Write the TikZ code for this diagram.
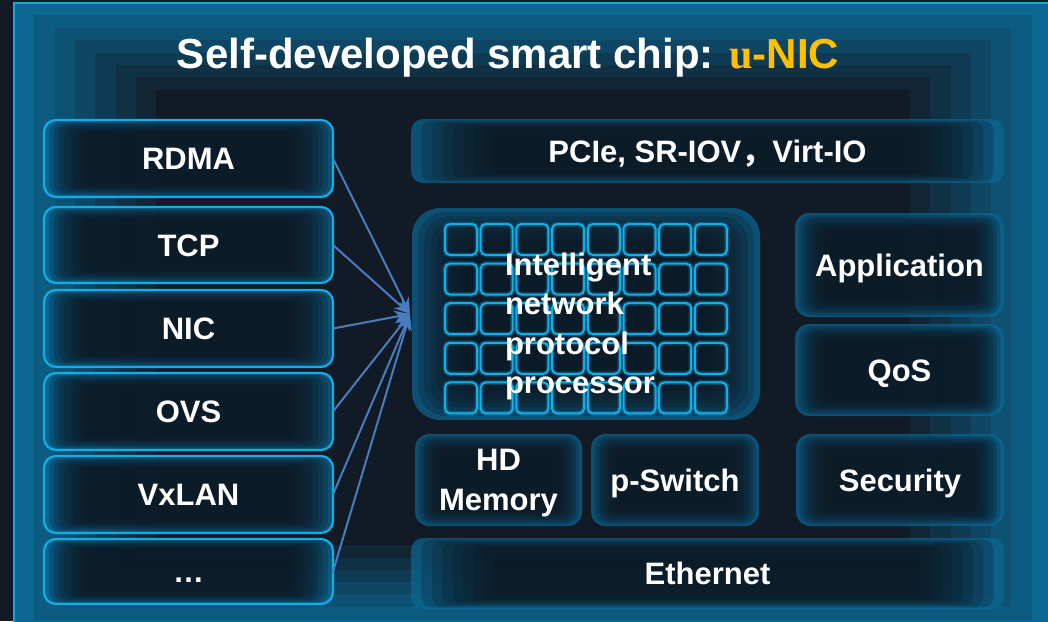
\documentclass[tikz,border=0pt]{standalone}
\usepackage{fontspec}
\setmainfont{Liberation Sans}
\newfontfamily\serifbf{Liberation Serif}
\newfontfamily\cjkfont{Noto Sans CJK SC}
\usetikzlibrary{arrows.meta}
\definecolor{pagebg}{HTML}{121A26}
\definecolor{framebd}{HTML}{1AA3DB}
\definecolor{frameout}{HTML}{0B6792}
\definecolor{glowblue}{HTML}{0A6895}
\definecolor{darkfill}{HTML}{0E1620}
\definecolor{cyanbd}{HTML}{12AEE8}
\definecolor{linkblue}{HTML}{4A7CC0}
\definecolor{gold}{HTML}{FFC000}
\definecolor{cellbd}{HTML}{10B0EA}
\newcommand\glowlayers[5]{%
  \pgfmathsetmacro\gw{#3-#1}\pgfmathsetmacro\gh{#4-#2}%
  \fill[glowblue, opacity=.7, rounded corners=#5pt] (#1,#2) rectangle (#3,#4);
  \foreach \k in {1,...,8}{%
    \pgfmathsetmacro\ix{\k*0.0175*\gw}%
    \pgfmathsetmacro\iy{\k*0.02*\gh}%
    \pgfmathsetmacro\rr{max(#5-\k,3)}%
    \fill[darkfill, opacity=.23, rounded corners=\rr pt] ({#1+\ix},{#2+\iy}) rectangle ({#3-\ix},{#4-\iy});
  }%
}
% name, x1, y1, x2, y2, radius, style, text
\newcommand\gbox[8]{%
  \glowlayers{#2}{#3}{#4}{#5}{#6}%
  \node[#7, minimum width={#4-#2}, minimum height={#5-#3}, rounded corners=#6pt] (#1) at ({(#2+#4)/2},{(#3+#5)/2}) {#8};
}
\tikzset{
  lblbase/.style={font=\bfseries\fontsize{31}{40}\selectfont, text=white, inner sep=0pt, outer sep=0pt, align=center},
  lbl/.style={lblbase, text height=22pt, text depth=0pt},
  leftlbl/.style={lbl, draw=cyanbd, line width=2.2pt},
  link/.style={draw=linkblue, line width=2pt, -{Stealth[length=16pt,width=13pt]}},
  cell/.style={draw=cellbd, line width=2pt, rounded corners=5pt},
  cellglow/.style={draw=cellbd, line width=5pt, opacity=.25, rounded corners=5pt},
}
\begin{document}
\begin{tikzpicture}[x=1pt,y=-1pt]
\useasboundingbox (0,0) rectangle (1048,621);
\fill[pagebg] (0,0) rectangle (1048,621);
% stepped frame background
\foreach \k in {0,...,7}{%
  \pgfmathtruncatemacro\pct{100-\k*100/7}%
  \fill[frameout!\pct!pagebg] ({14+\k*20.3},{3+\k*12.4}) rectangle ({1052-\k*20.3},{632-\k*12.4});
}
\draw[framebd, line width=2pt] (14,640) -- (14,3) -- (1060,3);
% title
\node[font=\bfseries\fontsize{42}{50}\selectfont, text=white, anchor=base, inner sep=0pt] (title) at (508,68)
  {Self-developed smart chip: \textcolor{gold}{{\serifbf u}-NIC}};
% left boxes
\gbox{rdma}{44}{120}{333}{197}{12}{leftlbl}{RDMA}
\gbox{tcp}{44}{207}{333}{283}{12}{leftlbl}{TCP}
\gbox{nic}{44}{290}{333}{367}{12}{leftlbl}{NIC}
\gbox{ovs}{44}{373}{333}{450}{12}{leftlbl}{OVS}
\gbox{vxlan}{44}{456}{333}{533}{12}{leftlbl}{VxLAN}
\gbox{more}{44}{539}{333}{604}{12}{leftlbl}{…}
% right blocks
\gbox{pcie}{411}{119}{1004}{183}{12}{lbl}{PCIe, SR-IOV{\cjkfont ，}Virt-IO}
\gbox{proc}{412}{208}{760}{420}{28}{lbl}{}
\foreach \i in {0,...,7}{%
  \foreach \j in {0,...,4}{%
    \draw[cellglow] ({445+\i*35.7},{224+\j*39.6}) rectangle ++(32,31);
    \draw[cell] ({445+\i*35.7},{224+\j*39.6}) rectangle ++(32,31);
  }%
}
\node[lblbase, align=left, anchor=north west, text=white, font=\bfseries\fontsize{31}{39.3}\selectfont] (proctext) at (505,253)
  {Intelligent\\network\\protocol\\processor};
\gbox{app}{795}{213}{1004}{317}{14}{lbl}{Application}
\gbox{qos}{795}{324}{1004}{416}{14}{lbl}{QoS}
\gbox{hdmem}{415}{434}{582}{526}{14}{lblbase, text depth=0pt}{HD\\Memory}
\gbox{pswitch}{591}{434}{759}{526}{14}{lbl}{p-Switch}
\gbox{security}{796}{434}{1004}{526}{14}{lbl}{Security}
\gbox{eth}{411}{538}{1004}{609}{12}{lbl}{Ethernet}
% connectors
\coordinate (conv) at (410,314);
\foreach \n in {rdma,tcp,nic,ovs,vxlan,more}{\draw[link] (\n.east) -- (conv);}
\end{tikzpicture}
\end{document}
